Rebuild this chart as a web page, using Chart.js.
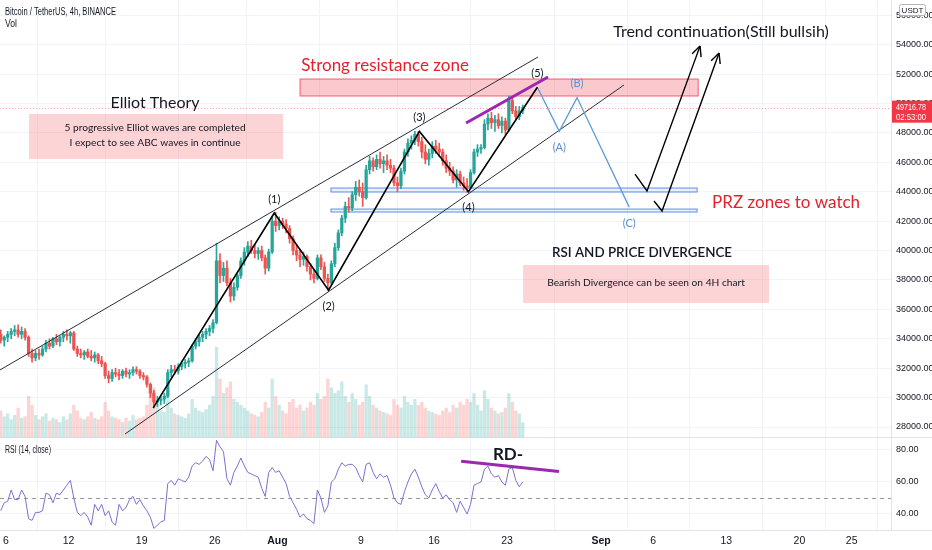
<!DOCTYPE html>
<html lang="en">
<head>
<meta charset="UTF-8">
<title>BTCUSDT 4h - Elliott waves</title>
<script src="https://cdn.jsdelivr.net/npm/chart.js"></script>
<style>
  html, body { margin: 0; padding: 0; background: #fff; }
  #wrap { width: 932px; height: 550px; position: relative; }
</style>
</head>
<body>
<div id="wrap"><canvas id="btc"></canvas></div>
<script>
// days counted from 1 July 2021 (31 = Aug 1, 62 = Sep 1)
const tickDays   = [5, 11, 18, 25, 31, 39, 46, 53, 62, 67, 74, 81, 86];
const tickLabels = ['6', '12', '19', '26', 'Aug', '9', '16', '23', 'Sep', '6', '13', '20', '25'];
const priceTicks = [28000, 30000, 32000, 34000, 36000, 38000, 40000, 42000, 44000, 46000, 48000, 50000, 52000, 54000, 56000];
const rsiTicks = [40, 60, 80];
const lastPrice = 49716.78;

// 8h candles, first one centred on Jul 5 12:00
const firstCandle = 4.5;
const opens = [
  34300, 33900, 34100, 34300, 34500, 34600, 34300, 34500, 34100, 33000,
  32700, 33000, 32900, 33300, 33700, 33500, 34000, 33800, 34100, 34300,
  34200, 34400, 33300, 33000, 32900, 33100, 32800, 32700, 32900, 32500,
  32300, 31500, 31300, 31700, 31600, 31500, 31800, 31600, 31700, 31900,
  31800, 31500, 31400, 30900, 30300, 29700, 29800, 29900, 30100, 31700,
  31900, 31800, 32100, 32300, 32400, 32500, 33500, 33800, 34100, 34300,
  34500, 34700, 35100, 39300, 38300, 38800, 37800, 36900, 37500, 38300,
  39300, 39900, 40300, 40000, 39800, 40000, 39500, 38800, 39900, 42000,
  41700, 42000, 41800, 41500, 40800, 40000, 39700, 39400, 39600, 38900,
  38400, 38100, 39500, 38900, 38100, 37800, 39100, 40200, 41200, 42200,
  43000, 42900, 43800, 44300, 44000, 43600, 45500, 46100, 45700, 46200,
  45900, 46100, 45800, 45600, 44600, 44400, 45400, 46700, 47300, 47500,
  47900, 47400, 46700, 46200, 46600, 47100, 46900, 46700, 46100, 45600,
  45400, 44800, 45200, 44600, 44400, 44300, 45300, 46700, 46900, 47000,
  48600, 49000, 48700, 48900, 48500, 48800, 48200, 50200, 49500, 49100,
  49500
];
const highs = [
  34600, 34200, 34500, 34700, 34900, 34950, 34800, 34700, 34200, 33300,
  33200, 33300, 33500, 33900, 34000, 34100, 34300, 34200, 34500, 34600,
  34500, 34500, 33500, 33300, 33200, 33300, 33200, 33100, 33000, 32800,
  32400, 31800, 31900, 32000, 31900, 31900, 32000, 31900, 32100, 32100,
  31900, 31700, 31500, 31000, 30500, 30100, 30100, 30300, 31900, 32200,
  32200, 32300, 32500, 32600, 32700, 33600, 34000, 34300, 34500, 34700,
  34900, 35300, 40500, 39800, 39200, 39300, 38100, 37800, 38500, 39500,
  40200, 40600, 40700, 40400, 40200, 40300, 39700, 40100, 42300, 42600,
  42300, 42200, 42100, 41700, 41000, 40400, 40100, 39900, 39700, 39100,
  38700, 39700, 39700, 39200, 38400, 39300, 40500, 41400, 42400, 43300,
  43600, 44000, 44700, 44800, 44600, 45800, 46400, 46300, 46500, 46700,
  46400, 46500, 46200, 45800, 45000, 45600, 46900, 47600, 47800, 48100,
  48100, 47700, 47200, 46900, 47400, 47500, 47300, 46900, 46500, 46000,
  45700, 45500, 45400, 45000, 44900, 45500, 46900, 47200, 47200, 48900,
  49300, 49400, 49200, 49300, 49100, 49000, 50500, 50400, 49800, 49800,
  49900
];
const lows = [
  33700, 33500, 33800, 34000, 34200, 34100, 34000, 33900, 32800, 32400,
  32500, 32600, 32800, 33100, 33300, 33400, 33600, 33500, 33800, 33900,
  33700, 33200, 32800, 32700, 32600, 32700, 32500, 32400, 32300, 32100,
  31300, 31000, 31100, 31400, 31200, 31300, 31400, 31300, 31500, 31600,
  31300, 31200, 30700, 30000, 29300, 29400, 29500, 29600, 30000, 31400,
  31600, 31600, 31900, 32000, 32100, 32400, 33300, 33500, 33800, 34000,
  34200, 34400, 35000, 37800, 37900, 37600, 36500, 36600, 37300, 38100,
  39000, 39600, 39800, 39500, 39400, 39300, 38400, 38600, 39800, 41300,
  41400, 41500, 41200, 40500, 39700, 39300, 38900, 39000, 38600, 38000,
  37800, 38000, 38700, 37900, 37300, 37700, 38900, 40000, 41000, 41900,
  42600, 42700, 43400, 43700, 43000, 43500, 45200, 45400, 45500, 45600,
  45300, 45500, 45300, 44400, 44000, 44200, 45200, 46400, 46900, 47200,
  47100, 46300, 45900, 45800, 46300, 46600, 46400, 45800, 45300, 45100,
  44600, 44300, 44400, 44100, 43950, 44200, 45200, 46400, 46600, 46900,
  48200, 48300, 48100, 48300, 48000, 47900, 48100, 49300, 48900, 48900,
  49300
];
const closes = [
  33900, 34100, 34300, 34500, 34600, 34300, 34500, 34100, 33000, 32700,
  33000, 32900, 33300, 33700, 33500, 34000, 33800, 34100, 34300, 34200,
  34400, 33300, 33000, 32900, 33100, 32800, 32700, 32900, 32500, 32300,
  31500, 31300, 31700, 31600, 31500, 31800, 31600, 31700, 31900, 31800,
  31500, 31400, 30900, 30300, 29700, 29800, 29900, 30100, 31700, 31900,
  31800, 32100, 32300, 32400, 32500, 33500, 33800, 34100, 34300, 34500,
  34700, 35100, 39300, 38300, 38800, 37800, 36900, 37500, 38300, 39300,
  39900, 40300, 40000, 39800, 40000, 39500, 38800, 39900, 42000, 41700,
  42000, 41800, 41500, 40800, 40000, 39700, 39400, 39600, 38900, 38400,
  38100, 39500, 38900, 38100, 37800, 39100, 40200, 41200, 42200, 43000,
  42900, 43800, 44300, 44000, 43600, 45500, 46100, 45700, 46200, 45900,
  46100, 45800, 45600, 44600, 44400, 45400, 46700, 47300, 47500, 47900,
  47400, 46700, 46200, 46600, 47100, 46900, 46700, 46100, 45600, 45400,
  44800, 45200, 44600, 44400, 44300, 45300, 46700, 46900, 47000, 48600,
  49000, 48700, 48900, 48500, 48800, 48200, 50200, 49500, 49100, 49500,
  49717
];
// volume, thousand BTC per candle
const volumes = [
  18, 14, 16, 12, 15, 20, 13, 14, 28, 22,
  15, 12, 14, 16, 11, 13, 12, 10, 14, 12,
  16, 22, 18, 13, 12, 14, 17, 13, 12, 14,
  24, 18, 14, 13, 12, 10, 13, 11, 15, 12,
  13, 14, 22, 30, 34, 24, 18, 17, 32, 20,
  16, 15, 14, 13, 16, 26, 20, 18, 17, 19,
  22, 28, 62, 40, 30, 34, 38, 26, 24, 22,
  20, 18, 16, 15, 14, 17, 24, 20, 40, 28,
  22, 18, 16, 24, 26, 20, 22, 18, 20, 24,
  22, 30, 26, 28, 40, 34, 30, 32, 38, 28,
  24, 30, 26, 22, 24, 36, 28, 22, 20, 18,
  17, 16, 15, 26, 22, 20, 28, 24, 22, 26,
  22, 24, 20, 18, 17, 16, 15, 18, 20, 17,
  22, 20, 24, 22, 26, 24, 30, 22, 18, 32,
  26, 20, 18, 16, 17, 20, 30, 24, 18, 16,
  10
];
const rsi = [
  42, 47, 48, 55, 49, 49, 55, 51, 37, 36,
  41, 41, 42, 53, 52, 47, 53, 52, 55, 58,
  61, 50, 41, 39, 41, 38, 33, 46, 42, 46,
  39, 42, 35, 33, 46, 42, 44, 49, 51, 46,
  49, 45, 42, 38, 31, 33, 35, 36, 59, 61,
  58, 62, 61, 60, 63, 70, 72, 71, 73, 76,
  74, 67, 86, 82, 79, 62, 58, 66, 70, 75,
  70, 66, 65, 64, 63, 56, 51, 66, 69, 66,
  67, 63, 59, 51, 47, 43, 38, 40, 37, 36,
  34, 55, 50, 41, 45, 60, 62, 68, 72, 70,
  71, 71, 69, 64, 60, 71, 72, 66, 62, 65,
  63, 64, 58, 50, 47, 46, 54, 60, 65, 68,
  63, 57, 52, 50, 55, 59, 54, 50, 52, 49,
  47, 41, 48, 44, 40, 46, 58, 59, 60, 68,
  70, 65, 63, 64, 60, 58, 68, 69, 61, 57,
  60
];

// drawings, as [day, price]
const wavePath = [[19.1, 29300], [30.7, 42550], [35.9, 37300], [44.6, 48100], [49.3, 44000], [55.9, 51100]];
const waveNames = ['', '(1)', '(2)', '(3)', '(4)', '(5)'];
const abcPath = [[55.9, 51100], [58.0, 48100], [59.7, 50400], [64.7, 42950]];
const abcNames = ['', '(A)', '(B)', '(C)'];
const upperChannel = [[4.43, 31880], [55.96, 53160]];
const lowerChannel = [[16.4, 27520], [64.2, 51260]];
const priceDivergence = [[49.07, 48670], [56.92, 51800]];
const rsiDivergence = [[48.6, 72.9], [57.97, 66.5]];
const arrowUp1 = [[65.25, 45200], [66.4, 44050], [71.48, 53900]];
const arrowUp2 = [[67.07, 43370], [67.84, 42690], [73.3, 53430]];
const resistanceZone = [33.17, 71.3, 50510, 51660];
const przZones = [[36.13, 71.2, 43980, 44250], [36.13, 71.2, 42620, 42820]];
const noteBoxes = [[7.21, 31.54, 46224, 49284], [54.53, 78.09, 36432, 39016]];
const notes = [
  ['Elliot Theory', 19.28, 50032, 'head'],
  ['5 progressive Elliot waves are completed', 19.28, 48332, 'small'],
  ['I expect to see ABC waves in continue', 19.28, 47312, 'small'],
  ['Strong resistance zone', 41.31, 52548, 'red'],
  ['Trend continuation(Still bullsih)', 73.49, 54860, 'head'],
  ['PRZ zones to watch', 79.72, 43232, 'red'],
  ['RSI AND PRICE DIVERGENCE', 65.92, 39832, 'caps'],
  ['Bearish Divergence can be seen on 4H chart', 66.31, 37792, 'small']
];

const upColor = '#26a69a', downColor = '#ef5350';
const candleX = closes.map((c, i) => firstCandle + i / 3);
const isUp = closes.map((c, i) => c >= opens[i]);
const annoFont = 'Lato, "Open Sans", sans-serif';
const axisFont = '"Liberation Sans Narrow", "Liberation Sans", sans-serif';

function pts(list) { return list.map(p => ({x: p[0], y: p[1]})); }
function drawLine(ctx, x1, y1, x2, y2) { ctx.beginPath(); ctx.moveTo(x1, y1); ctx.lineTo(x2, y2); ctx.stroke(); }
function noPadding(s) { s.paddingTop = 0; s.paddingBottom = 0; s.paddingLeft = 0; s.paddingRight = 0; }

const overlay = {
  id: 'overlay',
  beforeDatasetsDraw(chart) {
    const {ctx, chartArea: a, scales} = chart;
    const {x, y, yr} = scales;
    ctx.save();
    // pane separators
    ctx.strokeStyle = '#e0e3eb'; ctx.lineWidth = 1;
    drawLine(ctx, a.left, Math.round(y.bottom) + 0.5, chart.width, Math.round(y.bottom) + 0.5);
    drawLine(ctx, a.left, Math.round(yr.bottom) + 0.5, chart.width, Math.round(yr.bottom) + 0.5);
    // rsi middle line
    ctx.strokeStyle = '#9598a1'; ctx.setLineDash([4, 4]);
    const y50 = Math.round(yr.getPixelForValue(50)) + 0.5;
    drawLine(ctx, a.left, y50, a.right, y50);
    // last price line
    ctx.strokeStyle = '#f7a1a8'; ctx.setLineDash([1, 2]);
    const yl = Math.round(y.getPixelForValue(lastPrice)) + 0.5;
    drawLine(ctx, a.left, yl, a.right, yl);
    ctx.setLineDash([]);
    // zones
    const box = (r, fill, stroke) => {
      const x1 = x.getPixelForValue(r[0]), x2 = x.getPixelForValue(r[1]);
      const y1 = y.getPixelForValue(r[3]), y2 = y.getPixelForValue(r[2]);
      ctx.fillStyle = fill; ctx.fillRect(x1, y1, x2 - x1, y2 - y1);
      if (stroke) { ctx.strokeStyle = stroke; ctx.lineWidth = 1; ctx.strokeRect(x1, y1, x2 - x1, y2 - y1); }
    };
    noteBoxes.forEach(r => box(r, 'rgba(248,120,128,0.32)'));
    box(resistanceZone, 'rgba(242,54,69,0.27)', '#ec5f6a');
    przZones.forEach(r => box(r, 'rgba(120,160,240,0.15)', '#5d8fe6'));
    ctx.restore();
  },
  afterDatasetsDraw(chart) {
    const {ctx, scales} = chart;
    const {x, y, yr} = scales;
    ctx.save();
    ctx.textAlign = 'center'; ctx.textBaseline = 'middle';
    const styles = {
      head: ['16px ' + annoFont, '#131722'],
      small: ['10.2px ' + annoFont, '#131722'],
      red: ['17px ' + annoFont, '#e3222d'],
      caps: ['600 13.4px ' + annoFont, '#131722']
    };
    notes.forEach(n => {
      ctx.font = styles[n[3]][0]; ctx.fillStyle = styles[n[3]][1];
      ctx.fillText(n[0], x.getPixelForValue(n[1]), y.getPixelForValue(n[2]));
    });
    ctx.font = 'bold 17px ' + annoFont; ctx.fillStyle = '#131722';
    ctx.fillText('RD-', x.getPixelForValue(53.09), yr.getPixelForValue(76.9));
    // wave labels
    ctx.font = '11px ' + annoFont;
    const label = (path, names, color) => {
      ctx.fillStyle = color;
      path.forEach((p, i) => {
        if (!names[i]) return;
        const up = p[1] > path[i - 1][1];
        ctx.fillText(names[i], x.getPixelForValue(p[0]), y.getPixelForValue(p[1]) + (up ? -14 : 16));
      });
    };
    label(wavePath, waveNames, '#131722');
    label(abcPath, abcNames, '#5b8fcf');
    // arrow heads
    ctx.strokeStyle = '#000'; ctx.lineWidth = 1.4;
    [arrowUp1, arrowUp2].forEach(path => {
      const a = path[path.length - 2], b = path[path.length - 1];
      const ax = x.getPixelForValue(a[0]), ay = y.getPixelForValue(a[1]);
      const bx = x.getPixelForValue(b[0]), by = y.getPixelForValue(b[1]);
      const ang = Math.atan2(by - ay, bx - ax);
      [0.45, -0.45].forEach(d => drawLine(ctx, bx, by, bx - 11 * Math.cos(ang + d), by - 11 * Math.sin(ang + d)));
    });
    ctx.restore();
  },
  afterDraw(chart) {
    const {ctx, scales: {y}} = chart;
    ctx.save();
    // last price tag
    const yl = y.getPixelForValue(lastPrice);
    ctx.fillStyle = '#f23645';
    ctx.fillRect(y.left + 1, yl - 7, chart.width - y.left, 22);
    ctx.fillStyle = '#fff'; ctx.font = '9.5px ' + axisFont; ctx.textAlign = 'left'; ctx.textBaseline = 'middle';
    ctx.fillText(lastPrice.toFixed(2), y.left + 5, yl - 0.5, 30);
    ctx.fillText('02:53:00', y.left + 5, yl + 10, 30);
    // currency badge
    ctx.fillStyle = '#fff'; ctx.strokeStyle = '#b2b5be'; ctx.lineWidth = 1;
    ctx.beginPath(); ctx.roundRect(899.5, 4.5, 26, 11, 2); ctx.fill(); ctx.stroke();
    ctx.fillStyle = '#131722'; ctx.font = '8px ' + axisFont; ctx.textAlign = 'center';
    ctx.fillText('USDT', 912.5, 10.5, 22);
    // legends
    ctx.textAlign = 'left'; ctx.fillStyle = '#131722'; ctx.font = '10px ' + axisFont;
    ctx.fillText('Bitcoin / TetherUS, 4h, BINANCE', 5, 12, 111);
    ctx.fillText('Vol', 5, 24, 12);
    ctx.fillText('RSI (14, close)', 5, chart.scales.yr.top + 13, 46);
    ctx.restore();
  }
};

const ctx = document.getElementById('btc').getContext('2d');
const chart = new Chart(ctx, {
  type: 'bar',
  data: {
    datasets: [
      { type: 'line', data: pts(wavePath), borderColor: '#000', borderWidth: 1.6, pointRadius: 0, yAxisID: 'y', order: 0 },
      { type: 'line', data: pts(abcPath), borderColor: '#5b9bd5', borderWidth: 1.3, pointRadius: 0, yAxisID: 'y', order: 0 },
      { type: 'line', data: pts(upperChannel), borderColor: '#2a2e39', borderWidth: 1, pointRadius: 0, yAxisID: 'y', order: 1 },
      { type: 'line', data: pts(lowerChannel), borderColor: '#2a2e39', borderWidth: 1, pointRadius: 0, yAxisID: 'y', order: 1 },
      { type: 'line', data: pts(arrowUp1), borderColor: '#000', borderWidth: 1.4, pointRadius: 0, yAxisID: 'y', order: 0 },
      { type: 'line', data: pts(arrowUp2), borderColor: '#000', borderWidth: 1.4, pointRadius: 0, yAxisID: 'y', order: 0 },
      { type: 'line', data: pts(priceDivergence), borderColor: '#9c27b0', borderWidth: 3, pointRadius: 0, yAxisID: 'y', order: 0 },
      { type: 'line', data: pts(rsiDivergence), borderColor: '#9c27b0', borderWidth: 3, pointRadius: 0, yAxisID: 'yr', order: 0 },
      { type: 'line', data: candleX.map((v, i) => ({x: v, y: rsi[i]})), borderColor: '#7e6fd0', borderWidth: 1, pointRadius: 0, yAxisID: 'yr', order: 1 },
      { data: candleX.map((v, i) => ({x: v, y: [lows[i], highs[i]]})), backgroundColor: isUp.map(u => u ? upColor : downColor),
        barThickness: 1, grouped: false, yAxisID: 'y', order: 3 },
      { data: candleX.map((v, i) => ({x: v, y: [opens[i], closes[i]]})), backgroundColor: isUp.map(u => u ? upColor : downColor),
        barThickness: 2.6, minBarLength: 1, grouped: false, yAxisID: 'y', order: 2 },
      { data: candleX.map((v, i) => ({x: v, y: volumes[i]})), backgroundColor: isUp.map(u => u ? 'rgba(38,166,154,0.25)' : 'rgba(239,83,80,0.25)'),
        barThickness: 2.6, grouped: false, yAxisID: 'yv', order: 5 }
    ]
  },
  options: {
    responsive: true,
    maintainAspectRatio: false,
    animation: false,
    layout: { padding: 0 },
    plugins: { legend: { display: false }, tooltip: { enabled: false } },
    scales: {
      x: {
        type: 'linear', min: 4.43, max: 89.77, offset: false,
        grid: { color: '#f0f3fa', drawTicks: false },
        border: { display: false },
        afterBuildTicks: s => { s.ticks = tickDays.map(v => ({value: v})); },
        afterFit: s => { s.height = 20; noPadding(s); },
        ticks: {
          padding: 5, color: '#131722', maxRotation: 0, autoSkip: false,
          font: c => ({family: axisFont, size: 10.5, weight: (c.tick && (c.tick.value === 31 || c.tick.value === 62)) ? 'bold' : 'normal'}),
          callback: v => tickLabels[tickDays.indexOf(v)]
        }
      },
      y: {
        position: 'right', stack: 'panes', stackWeight: 437, min: 27320, max: 57036,
        grid: { color: '#f0f3fa', drawTicks: false },
        border: { color: '#e0e3eb' },
        afterBuildTicks: s => { s.ticks = priceTicks.map(v => ({value: v})); },
        afterFit: s => { s.width = 41; noPadding(s); },
        ticks: { padding: 5, color: '#131722', font: {family: axisFont, size: 9}, callback: v => v.toFixed(2) }
      },
      yr: {
        position: 'right', stack: 'panes', stackWeight: 93, min: 30, max: 88.1,
        grid: { color: '#f0f3fa', drawTicks: false },
        border: { color: '#e0e3eb' },
        afterBuildTicks: s => { s.ticks = rsiTicks.map(v => ({value: v})); },
        afterFit: s => { s.width = 41; noPadding(s); },
        ticks: { padding: 5, color: '#131722', font: {family: axisFont, size: 9}, callback: v => v.toFixed(2) }
      },
      yv: { display: false, min: -64.1, max: 301.4 }
    }
  },
  plugins: [overlay]
});
</script>
</body>
</html>
